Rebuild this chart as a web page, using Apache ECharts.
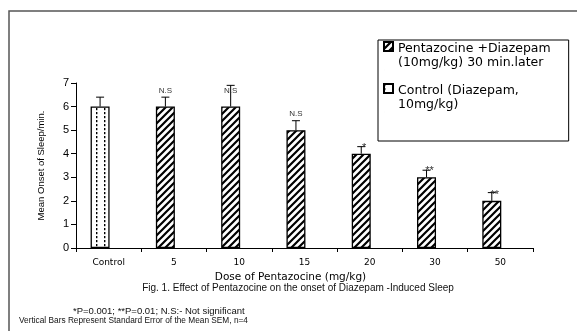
<!DOCTYPE html>
<html>
<head>
<meta charset="utf-8">
<script src="https://cdn.jsdelivr.net/npm/echarts@6/dist/echarts.min.js"></script>
<style>
  html, body { margin: 0; padding: 0; background: #fff; }
  #chart { width: 577px; height: 331px; }
</style>
</head>
<body>
<div id="chart"></div>
<script>
// values
const categories = ['Control', '5', '10', '15', '20', '30', '50'];
const pentazocineMeans = ['-', 6, 6, 5, 4, 3, 2];
const controlMeans = [6, '-', '-', '-', '-', '-', '-'];
const sem = [0.4, 0.4, 0.9, 0.4, 0.3, 0.3, 0.35];
const significance = ['', 'N.S', 'N.S', 'N.S', '*', '**', '**'];
const yTicks = { min: 0, max: 7, interval: 1 };

const FONT = '"Liberation Sans", Arial, sans-serif';
const WIDE = '"DejaVu Sans", sans-serif';
const BAR_W = 19;
const BAR_GAP = -0.1;
// bars sit in the left slot of a two-slot group
const BAR_SHIFT = -(BAR_W * (1 + BAR_GAP)) / 2;

function hatchPattern() {
  const c = document.createElement('canvas');
  c.width = 7; c.height = 7;
  const g = c.getContext('2d');
  g.fillStyle = '#fff'; g.fillRect(0, 0, 7, 7);
  g.strokeStyle = '#000'; g.lineWidth = 2.2;
  g.beginPath();
  g.moveTo(-1, 8); g.lineTo(8, -1);
  g.moveTo(-4.5, 4.5); g.lineTo(4.5, -4.5);
  g.moveTo(2.5, 11.5); g.lineTo(11.5, 2.5);
  g.stroke();
  return c;
}

function dashPattern() {
  const c = document.createElement('canvas');
  c.width = 8; c.height = 4;
  const g = c.getContext('2d');
  g.fillStyle = '#fff'; g.fillRect(0, 0, 8, 4);
  g.fillStyle = '#000'; g.fillRect(0, 0, 1.4, 2.2);
  return c;
}

const chart = echarts.init(document.getElementById('chart'), null, { renderer: 'canvas' });

const penName = 'Pentazocine +Diazepam\n(10mg/kg) 30 min.later';
const ctlName = 'Control (Diazepam,\n10mg/kg)';
// square at the top of a tall icon so it lines up with the first text line
const topSquare = 'path://M0,0L9,0L9,9L0,9Z M0,28L0.01,28';

const option = {
  backgroundColor: '#fff',
  animation: false,
  textStyle: { fontFamily: FONT },
  grid: { left: 76, right: 44, top: 83, bottom: 83 },
  legend: {
    data: [penName, ctlName],
    orient: 'vertical',
    left: 378,
    top: 40,
    padding: [1, 18, 28, 5],
    itemGap: 12,
    itemWidth: 9,
    itemHeight: 28,
    itemTextGap: 3,
    icon: topSquare,
    borderColor: '#000',
    borderWidth: 1,
    textStyle: { fontSize: 12.5, lineHeight: 14, color: '#000', fontFamily: WIDE }
  },
  xAxis: {
    type: 'category',
    data: categories,
    name: 'Dose of Pentazocine (mg/kg)',
    nameLocation: 'middle',
    nameGap: 24,
    nameTextStyle: { fontSize: 10.5, color: '#000', fontFamily: WIDE, padding: [0, 28, 0, 0] },
    axisLine: { lineStyle: { color: '#000', width: 1 } },
    axisTick: { show: true, length: 4, lineStyle: { color: '#000' } },
    axisLabel: { fontSize: 9, color: '#000', margin: 10, fontFamily: WIDE },
    splitLine: { show: false }
  },
  yAxis: {
    type: 'value',
    min: yTicks.min,
    max: yTicks.max,
    interval: yTicks.interval,
    name: 'Mean Onset of Sleep/min.',
    nameLocation: 'middle',
    nameGap: 30,
    nameTextStyle: { fontSize: 9.5, color: '#000' },
    axisLine: { show: true, lineStyle: { color: '#000', width: 1 } },
    axisTick: { show: true, length: 5, lineStyle: { color: '#000' } },
    axisLabel: { fontSize: 11, color: '#000', margin: 7 },
    splitLine: { show: false }
  },
  series: [
    {
      name: penName,
      type: 'bar',
      stack: 'dose',
      barWidth: BAR_W,
      barGap: (BAR_GAP * 100) + '%',
      data: pentazocineMeans,
      itemStyle: { color: { image: hatchPattern(), repeat: 'repeat' }, borderColor: '#000', borderWidth: 1.3 }
    },
    {
      name: ctlName,
      type: 'bar',
      stack: 'dose',
      barWidth: BAR_W,
      data: controlMeans,
      itemStyle: { color: { image: dashPattern(), repeat: 'repeat' }, borderColor: '#000', borderWidth: 1.3 }
    },
    {
      // empty right-hand slot, as in the original clustered layout
      name: 'spacer',
      type: 'bar',
      barWidth: BAR_W,
      data: []
    },
    {
      type: 'custom',
      z: 5,
      data: categories.map((c, i) => [i, (pentazocineMeans[i] === '-' ? controlMeans[i] : pentazocineMeans[i]), sem[i]]),
      renderItem: function (params, api) {
        const i = api.value(0);
        const base = api.coord([i, api.value(1)]);
        const top = api.coord([i, api.value(1) + api.value(2)]);
        const x = base[0] + BAR_SHIFT;
        const lbl = significance[i];
        const star = lbl.charAt(0) === '*';
        return {
          type: 'group',
          children: [
            { type: 'line', shape: { x1: x, y1: base[1], x2: x, y2: top[1] }, style: { stroke: '#000', lineWidth: 1 } },
            { type: 'line', shape: { x1: x - 4, y1: top[1], x2: x + 4, y2: top[1] }, style: { stroke: '#000', lineWidth: 1 } },
            {
              type: 'text',
              z2: 10,
              style: {
                text: lbl,
                x: star ? x + 3 : x,
                y: star ? base[1] - 6 : base[1] - 16,
                align: 'center',
                verticalAlign: 'middle',
                fontSize: star ? 11 : 8,
                fontFamily: FONT,
                fill: '#333'
              }
            }
          ]
        };
      }
    }
  ],
  graphic: [
    {
      type: 'polyline',
      silent: true,
      shape: { points: [[9, 340], [9, 11], [590, 11]] },
      style: { stroke: '#555', lineWidth: 1.5, fill: null }
    },
    {
      type: 'text', x: 298, y: 288,
      style: { text: 'Fig. 1. Effect of Pentazocine on the onset of Diazepam -Induced Sleep', align: 'center', verticalAlign: 'middle', fontSize: 10, fontFamily: FONT, fill: '#111' }
    },
    {
      type: 'text', x: 73, y: 311,
      style: { text: '*P=0.001; **P=0.01; N.S:- Not significant', verticalAlign: 'middle', fontSize: 9.5, fontFamily: FONT, fill: '#111' }
    },
    {
      type: 'text', x: 19, y: 321,
      style: { text: 'Vertical Bars Represent Standard Error of the Mean SEM, n=4', verticalAlign: 'middle', fontSize: 8.3, fontFamily: FONT, fill: '#111' }
    }
  ]
};

chart.setOption(option);
</script>
</body>
</html>
